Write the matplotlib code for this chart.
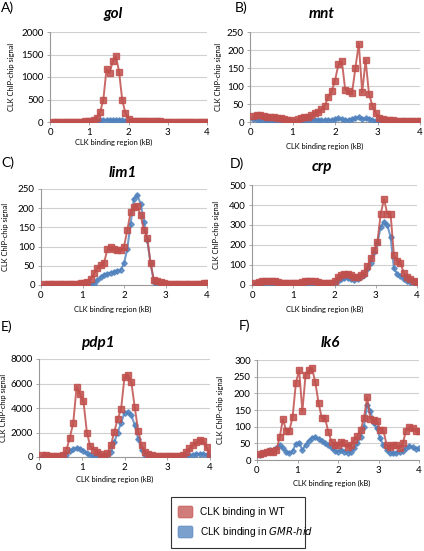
import matplotlib
matplotlib.use('Agg')
import matplotlib.pyplot as plt
from matplotlib.patches import FancyBboxPatch

# probe positions along the CLK binding region (kB)
x_kb = [0.08, 0.16, 0.24, 0.32, 0.40, 0.48, 0.56, 0.64, 0.72, 0.80,
        0.88, 0.96, 1.04, 1.12, 1.20, 1.28, 1.36, 1.44, 1.52, 1.60,
        1.68, 1.76, 1.84, 1.92, 2.00, 2.08, 2.16, 2.24, 2.32, 2.40,
        2.48, 2.56, 2.64, 2.72, 2.80, 2.88, 2.96, 3.04, 3.12, 3.20,
        3.28, 3.36, 3.44, 3.52, 3.60, 3.68, 3.76, 3.84, 3.92, 4.00]

# A) gol
gol_wt = [5, 5, 5, 5, 5, 5, 5, 5, 8, 10,
          15, 20, 30, 50, 100, 230, 500, 1180, 1100, 1350,
          1460, 1120, 490, 200, 70, 25, 20, 20, 20, 18,
          18, 15, 15, 12, 12, 10, 10, 10, 8, 8,
          8, 6, 6, 6, 5, 5, 5, 5, 5, 5]
gol_hid = [0, 0, 0, 0, 0, 0, 0, 0, 0, 0,
           0, 0, 0, 5, 20, 40, 45, 45, 45, 45,
           45, 45, 40, 30, 10, 0, 0, 0, 0, 0,
           0, 0, 0, 0, 0, 0, 0, 0, 0, 0,
           0, 0, 0, 0, 0, 0, 0, 0, 0, 0]

# B) mnt
mnt_wt = [18, 20, 20, 17, 15, 15, 14, 12, 10, 8,
          6, 5, 0, 8, 12, 15, 15, 20, 25, 28,
          35, 45, 70, 85, 115, 160, 170, 90, 85, 80,
          150, 218, 82, 172, 78, 45, 25, 10, 7, 5,
          5, 5, 4, 4, 4, 4, 3, 3, 3, 3]
mnt_hid = [8, 6, 5, 4, 4, 3, 3, 3, 3, 3,
           3, 2, 2, 3, 4, 4, 5, 5, 5, 5,
           5, 5, 6, 6, 7, 10, 8, 6, 6, 7,
           10, 13, 8, 10, 8, 6, 4, 2, 2, 2,
           2, 2, 2, 2, 2, 2, 2, 2, 2, 2]

# C) lim1
lim1_wt = [2, 2, 2, 2, 2, 3, 3, 3, 3, 3,
           3, 4, 5, 7, 15, 30, 45, 52, 58, 93,
           100, 95, 92, 90, 100, 143, 190, 203, 205, 182,
           143, 123, 57, 13, 10, 7, 5, 3, 3, 3,
           3, 3, 3, 3, 3, 3, 3, 3, 5, 6]
lim1_hid = [1, 1, 1, 1, 1, 1, 1, 1, 1, 1,
            1, 1, 1, 1, 1, 3, 12, 20, 26, 29,
            32, 35, 37, 39, 56, 95, 160, 225, 234, 212,
            165, 117, 56, 9, 3, 1, 1, 1, 1, 1,
            1, 1, 1, 1, 1, 1, 1, 1, 1, 1]

# D) crp
crp_wt = [10, 15, 18, 20, 20, 20, 18, 15, 12, 10,
          10, 10, 10, 12, 15, 18, 20, 20, 18, 15,
          10, 8, 8, 12, 20, 40, 50, 55, 55, 50,
          42, 42, 48, 60, 95, 133, 175, 215, 355, 430,
          355, 355, 150, 120, 110, 60, 40, 30, 20, 15]
crp_hid = [4, 5, 6, 8, 8, 8, 6, 5, 4, 4,
           4, 4, 4, 5, 6, 8, 8, 8, 6, 5,
           4, 3, 3, 5, 10, 20, 30, 35, 35, 30,
           25, 30, 40, 50, 80, 110, 165, 210, 290, 315,
           300, 240, 85, 55, 45, 30, 20, 15, 12, 10]

# E) pdp1
pdp1_wt = [200, 180, 100, 60, 50, 50, 150, 550, 1570, 2750,
           5730, 5140, 4540, 2000, 860, 600, 400, 220, 100, 320,
           950, 2050, 3100, 3900, 6540, 6700, 6100, 4050, 2150, 950,
           400, 220, 150, 100, 80, 60, 50, 50, 60, 80,
           120, 200, 400, 700, 1000, 1200, 1400, 1300, 800, 220]
pdp1_hid = [0, 0, 0, 0, 0, 0, 50, 200, 450, 650,
            750, 650, 500, 300, 150, 80, 50, 30, 50, 150,
            400, 1200, 2000, 2800, 3600, 3650, 3400, 2600, 1500, 600,
            200, 80, 40, 20, 10, 10, 10, 10, 10, 20,
            30, 50, 100, 150, 200, 250, 250, 250, 200, 100]

# F) lk6
lk6_wt = [18, 20, 25, 28, 23, 30, 68, 123, 88, 88,
          130, 231, 270, 146, 256, 270, 275, 233, 171, 126,
          126, 85, 55, 45, 45, 55, 50, 40, 45, 60,
          72, 90, 126, 188, 123, 120, 118, 90, 90, 45,
          38, 45, 45, 35, 50, 88, 100, 95, 88, 86]
lk6_hid = [15, 20, 25, 30, 25, 35, 45, 35, 25, 20,
           28, 48, 52, 30, 45, 58, 67, 68, 64, 57,
           50, 45, 35, 28, 25, 30, 25, 22, 25, 35,
           50, 70, 100, 165, 148, 110, 95, 65, 45, 30,
           22, 20, 22, 25, 28, 35, 42, 38, 33, 35]

RED = '#c0504d'
BLUE = '#4f81bd'
W, H = 424, 551
plt.rcParams['font.family'] = ['Lato', 'DejaVu Sans']

fig = plt.figure(figsize=(W / 100, H / 100), dpi=100)
fig.patch.set_facecolor('white')


def px_axes(left, top, right, bottom):
    return fig.add_axes([left / W, 1 - bottom / H, (right - left) / W, (bottom - top) / H])


def fig_text(x, y, s, **kw):
    fig.text(x / W, 1 - y / H, s, **kw)


panels = [
    # letter, gene, wt, hid, ymax, ystep, axes box, letter pos, title pos, ylabel pos, xlabel pos
    ('A)', 'gol', gol_wt, gol_hid, 2000, 500, (50, 32, 207, 122), (1, 8), (113, 14), (12, 77), (114, 142)),
    ('B)', 'mnt', mnt_wt, mnt_hid, 250, 50, (250, 32, 420, 122), (235, 8), (322, 14), (218, 77), (325, 146)),
    ('C)', 'lim1', lim1_wt, lim1_hid, 250, 50, (41, 189, 207, 285), (1, 163), (123, 173), (6, 237), (113, 309)),
    ('D)', 'crp', crp_wt, crp_hid, 500, 100, (252, 185, 417, 285), (230, 164), (322, 167), (217, 235), (325, 309)),
    ('E)', 'pdp1', pdp1_wt, pdp1_hid, 8000, 2000, (39, 359, 210, 457), (1, 327), (98, 343), (4, 408), (115, 479)),
    ('F)', 'lk6', lk6_wt, lk6_hid, 300, 50, (257, 360, 419, 460), (239, 326), (330, 343), (220, 410), (332, 483)),
]

for letter, gene, wt, hid, ymax, ystep, box, lpos, tpos, ylpos, xlpos in panels:
    ax = px_axes(*box)
    ax.plot(x_kb, hid, color=BLUE, lw=1.5, marker='D', ms=2.8, mec=BLUE, alpha=0.8, zorder=3)
    ax.plot(x_kb, wt, color=RED, lw=1.4, marker='s', ms=4.6, mec=RED, alpha=0.85, zorder=4)
    ax.set_xlim(0, 4)
    ax.set_ylim(0, ymax)
    ax.set_xticks(range(5))
    ax.set_yticks(range(0, ymax + 1, ystep))
    ax.yaxis.grid(True, color='#d0d0d0', lw=0.8)
    ax.set_axisbelow(True)
    for s in ('top', 'right'):
        ax.spines[s].set_visible(False)
    for s in ('left', 'bottom'):
        ax.spines[s].set_color('#999999')
        ax.spines[s].set_linewidth(0.8)
    ax.tick_params(labelsize=7, length=2.5, width=0.6, color='#999999', pad=2)

    fig_text(lpos[0], lpos[1], letter, fontsize=10, ha='left', va='center')
    fig_text(tpos[0], tpos[1], gene, fontsize=11, weight='bold', style='italic',
             ha='center', va='center')
    fig_text(ylpos[0], ylpos[1], 'CLK ChIP-chip signal', fontsize=5.4, rotation=90,
             ha='center', va='center')
    fig_text(xlpos[0], xlpos[1], 'CLK binding region (kB)', fontsize=5.4,
             ha='center', va='center')

# legend box
lx0, ly0, lx1, ly1 = 171, 497, 305, 548
fig.patches.append(FancyBboxPatch((lx0 / W, 1 - ly1 / H), (lx1 - lx0) / W, (ly1 - ly0) / H,
                                  boxstyle='square,pad=0', transform=fig.transFigure,
                                  facecolor='white', edgecolor='#333333', lw=0.8))
for yc, col in [(512, RED), (532, BLUE)]:
    fig.patches.append(FancyBboxPatch((178 / W, 1 - (yc + 6) / H), 15 / W, 12 / H,
                                      boxstyle='round,pad=0,rounding_size=0.004',
                                      transform=fig.transFigure, facecolor=col,
                                      edgecolor=col, alpha=0.75, lw=0.5))
fig_text(200, 512, 'CLK binding in WT', fontsize=7.3, family='Liberation Sans',
         ha='left', va='center')
fig_text(200, 532, 'CLK binding in $\\it{GMR}$-$\\it{hid}$', fontsize=7.3,
         family='Liberation Sans', ha='left', va='center')

fig.savefig('out.png', dpi=100)
